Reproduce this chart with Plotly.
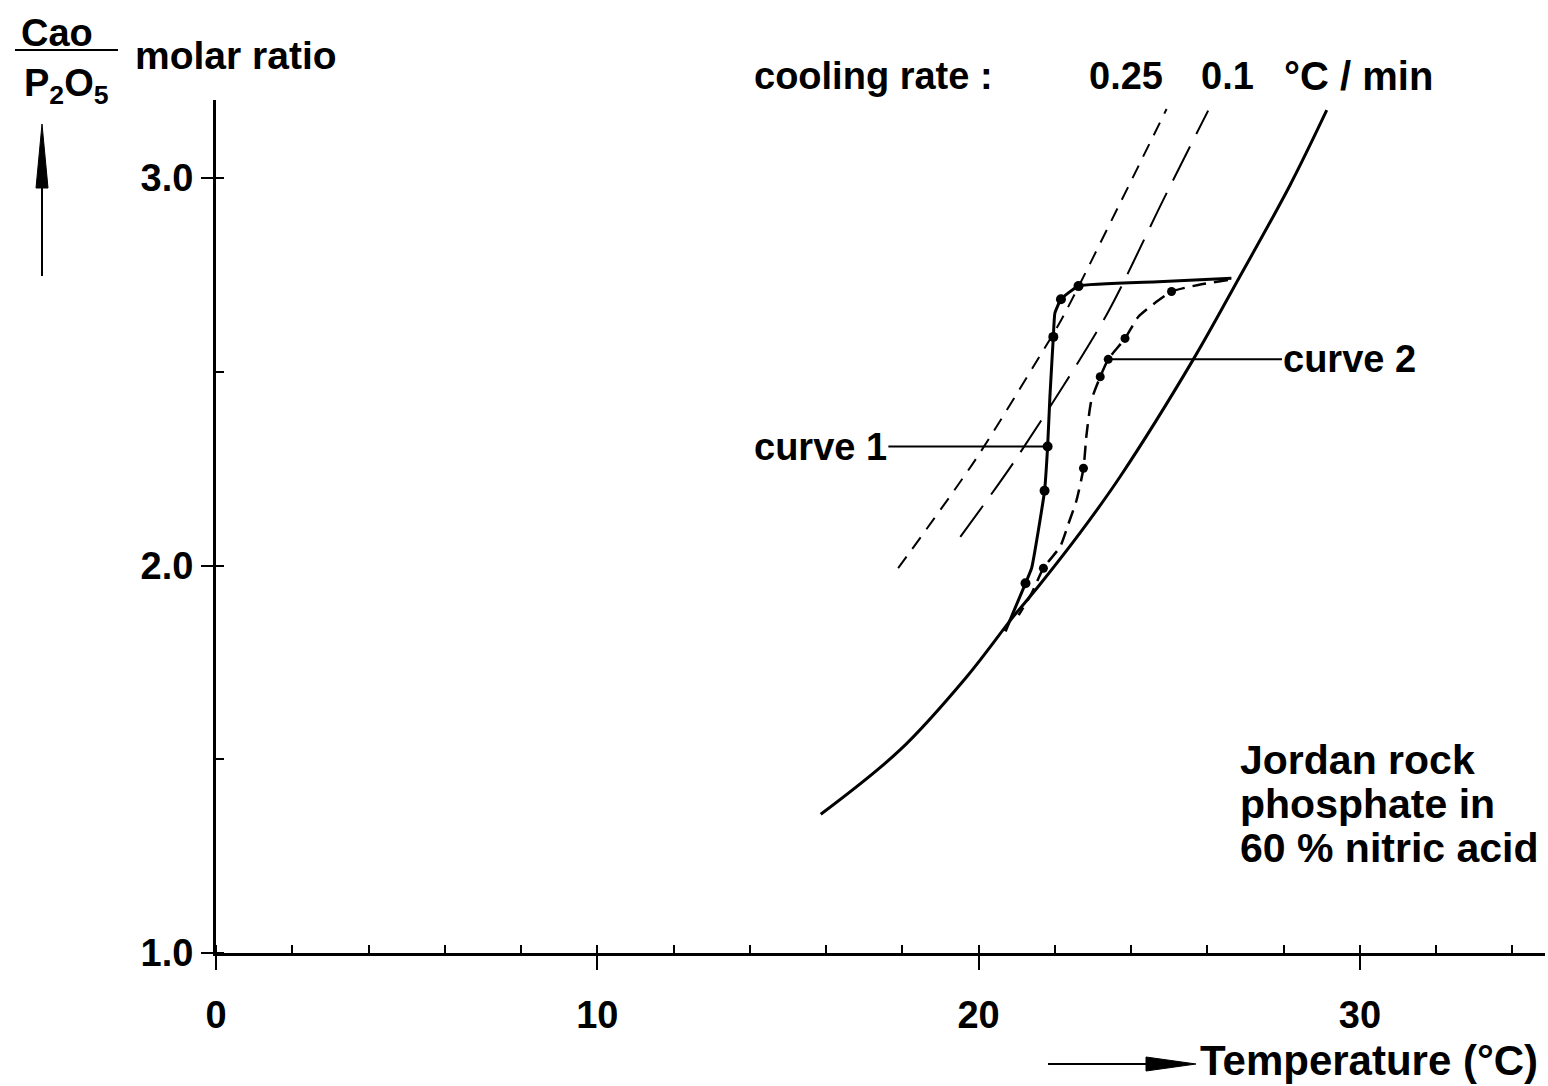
import plotly.graph_objects as go

# ---------------- data ----------------
# equilibrium (solubility) curve
eq_x = [15.86, 17.94, 19.69, 20.91, 21.56, 22.66, 23.71, 25.62, 26.83, 28.17, 29.13]
eq_y = [1.358, 1.524, 1.713, 1.868, 1.945, 2.084, 2.229, 2.530, 2.742, 2.982, 3.175]

# cooling-rate lines
rate025_x = [17.89, 19.91, 21.62, 22.17, 23.71, 24.93]
rate025_y = [1.993, 2.272, 2.543, 2.634, 2.935, 3.178]
rate01_x = [19.52, 20.96, 23.35, 24.84, 26.02]
rate01_y = [2.074, 2.272, 2.646, 2.943, 3.174]

# curve 1 (solid) path and measured points
c1_x = [26.63, 24.71, 22.62, 22.16, 22.00, 21.96, 21.87, 21.81, 21.73, 21.39, 21.23, 20.70]
c1_y = [2.741, 2.732, 2.721, 2.687, 2.651, 2.590, 2.435, 2.307, 2.193, 1.993, 1.954, 1.830]
c1_pts_x = [22.62, 22.16, 21.96, 21.81, 21.73, 21.23]
c1_pts_y = [2.721, 2.687, 2.590, 2.307, 2.193, 1.954]

# curve 2 (dashed) path and measured points
c2_x = [26.54, 25.76, 25.06, 24.67, 24.19, 23.84, 23.40, 23.19, 22.96, 22.83, 22.75,
        22.57, 22.36, 22.14, 21.70, 21.39, 21.05]
c2_y = [2.737, 2.724, 2.707, 2.681, 2.642, 2.586, 2.532, 2.487, 2.427, 2.337, 2.251,
        2.169, 2.109, 2.049, 1.993, 1.928, 1.872]
c2_pts_x = [25.06, 23.84, 23.40, 23.19, 22.75, 21.70]
c2_pts_y = [2.707, 2.586, 2.532, 2.487, 2.251, 1.993]

x_ticks = [0, 10, 20, 30]
y_ticks = [1.0, 2.0, 3.0]
y_tick_labels = ["1.0", "2.0", "3.0"]

# ---------------- layout helpers ----------------
W, H = 1548, 1086
ML, MR, MT, MB = 216, 3, 100, 133
PW, PH = W - ML - MR, H - MT - MB
FONT = "Liberation Sans, Arial, Helvetica, sans-serif"


def px(x):
    return (x - ML) / PW


def py(y):
    return (H - MB - y) / PH


def tfont(size):
    return dict(family=FONT, size=size, color="black", weight="bold")


fig = go.Figure()

fig.add_trace(go.Scatter(x=eq_x, y=eq_y, mode="lines",
                         line=dict(color="black", width=3, shape="spline", smoothing=1.0),
                         hoverinfo="skip"))
fig.add_trace(go.Scatter(x=rate025_x, y=rate025_y, mode="lines",
                         line=dict(color="black", width=2, dash="14px,10px",
                                   shape="spline", smoothing=0.8), hoverinfo="skip"))
fig.add_trace(go.Scatter(x=rate01_x, y=rate01_y, mode="lines",
                         line=dict(color="black", width=2, dash="38px,14px",
                                   shape="spline", smoothing=0.8), hoverinfo="skip"))
fig.add_trace(go.Scatter(x=c1_x, y=c1_y, mode="lines",
                         line=dict(color="black", width=3, shape="spline", smoothing=0.4),
                         hoverinfo="skip"))
fig.add_trace(go.Scatter(x=c1_pts_x, y=c1_pts_y, mode="markers",
                         marker=dict(color="black", size=10), hoverinfo="skip"))
fig.add_trace(go.Scatter(x=c2_x, y=c2_y, mode="lines",
                         line=dict(color="black", width=2.5, dash="14px,8px",
                                   shape="spline", smoothing=0.6), hoverinfo="skip"))
fig.add_trace(go.Scatter(x=c2_pts_x, y=c2_pts_y, mode="markers",
                         marker=dict(color="black", size=9), hoverinfo="skip"))

ann = []
txt = dict(font=tfont(38), showarrow=False, xref="paper", yref="paper")

# curve labels with pointer lines
ann.append(dict(x=c1_pts_x[3], y=c1_pts_y[3], xref="x", yref="y", text="curve 1",
                showarrow=True, arrowhead=0, arrowwidth=2, arrowcolor="black",
                axref="x", ayref="y", ax=15.85, ay=c1_pts_y[3], font=tfont(38)))
ann.append(dict(x=c2_pts_x[2], y=c2_pts_y[2], xref="x", yref="y", text="curve 2",
                showarrow=True, arrowhead=0, arrowwidth=2, arrowcolor="black",
                axref="x", ayref="y", ax=29.74, ay=c2_pts_y[2], font=tfont(38)))

# header texts
ann.append(dict(txt, x=px(752), y=py(76), xanchor="left", yanchor="middle", text="cooling rate :"))
ann.append(dict(txt, x=px(1087), y=py(76), xanchor="left", yanchor="middle", text="0.25"))
ann.append(dict(txt, x=px(1199), y=py(76), xanchor="left", yanchor="middle", text="0.1"))
ann.append(dict(txt, x=px(1282), y=py(76), xanchor="left", yanchor="middle",
                text="°C / min", font=tfont(40)))

# note
for i, line in enumerate(["Jordan rock", "phosphate in", "60 % nitric acid"]):
    ann.append(dict(txt, x=px(1238), y=py(760 + 44 * i), xanchor="left", yanchor="middle",
                    text=line, font=tfont(41)))

# axis titles
ann.append(dict(txt, x=px(57), y=py(33), xanchor="center", yanchor="middle", text="Cao"))
ann.append(dict(txt, x=px(66), y=py(86), xanchor="center", yanchor="middle",
                text="P<sub>2</sub>O<sub>5</sub>"))
ann.append(dict(txt, x=px(133), y=py(56), xanchor="left", yanchor="middle", text="molar ratio",
                font=tfont(39)))
ann.append(dict(txt, x=px(1198), y=py(1060), xanchor="left", yanchor="middle",
                text="Temperature (°C)", font=tfont(42)))

# fraction bar and axis-direction arrows (drawn as shapes)
line_style = dict(color="black", width=2)
shapes = [
    dict(type="line", xref="paper", yref="paper", x0=px(15), x1=px(118),
         y0=py(50), y1=py(50), line=line_style),
    # vertical arrow
    dict(type="line", xref="paper", yref="paper", x0=px(42), x1=px(42),
         y0=py(276), y1=py(180), line=line_style),
    dict(type="path", xref="paper", yref="paper",
         path=f"M {px(42)},{py(124)} L {px(36)},{py(188)} L {px(48)},{py(188)} Z",
         fillcolor="black", line=dict(color="black", width=1)),
    # horizontal arrow
    dict(type="line", xref="paper", yref="paper", x0=px(1048), x1=px(1150),
         y0=py(1064), y1=py(1064), line=line_style),
    dict(type="path", xref="paper", yref="paper",
         path=f"M {px(1196)},{py(1064)} L {px(1146)},{py(1057)} L {px(1146)},{py(1071)} Z",
         fillcolor="black", line=dict(color="black", width=1)),
]

fig.update_layout(
    width=W, height=H,
    margin=dict(l=ML, r=MR, t=MT, b=MB, pad=0),
    paper_bgcolor="white", plot_bgcolor="white",
    showlegend=False,
    annotations=ann, shapes=shapes,
    font=dict(family=FONT, color="black"),
    xaxis=dict(range=[0, PW / 38.13], showgrid=False, zeroline=False,
               showline=True, linecolor="black", linewidth=3,
               tickmode="array", tickvals=x_ticks, ticks="outside", ticklen=14,
               tickwidth=2, tickcolor="black", ticklabelstandoff=12,
               tickfont=tfont(38),
               minor=dict(ticks="inside", ticklen=8, tickwidth=2, tickcolor="black",
                          dtick=2, tick0=0, showgrid=False)),
    yaxis=dict(range=[1.0, 1.0 + PH / 387.5], showgrid=False, zeroline=False,
               showline=True, linecolor="black", linewidth=3,
               tickmode="array", tickvals=y_ticks, ticktext=y_tick_labels,
               ticks="outside", ticklen=12, tickwidth=2, tickcolor="black",
               tickfont=tfont(38),
               minor=dict(ticks="inside", ticklen=8, tickwidth=2, tickcolor="black",
                          dtick=0.5, tick0=1.0, showgrid=False)),
)

fig.write_html("out.html")
